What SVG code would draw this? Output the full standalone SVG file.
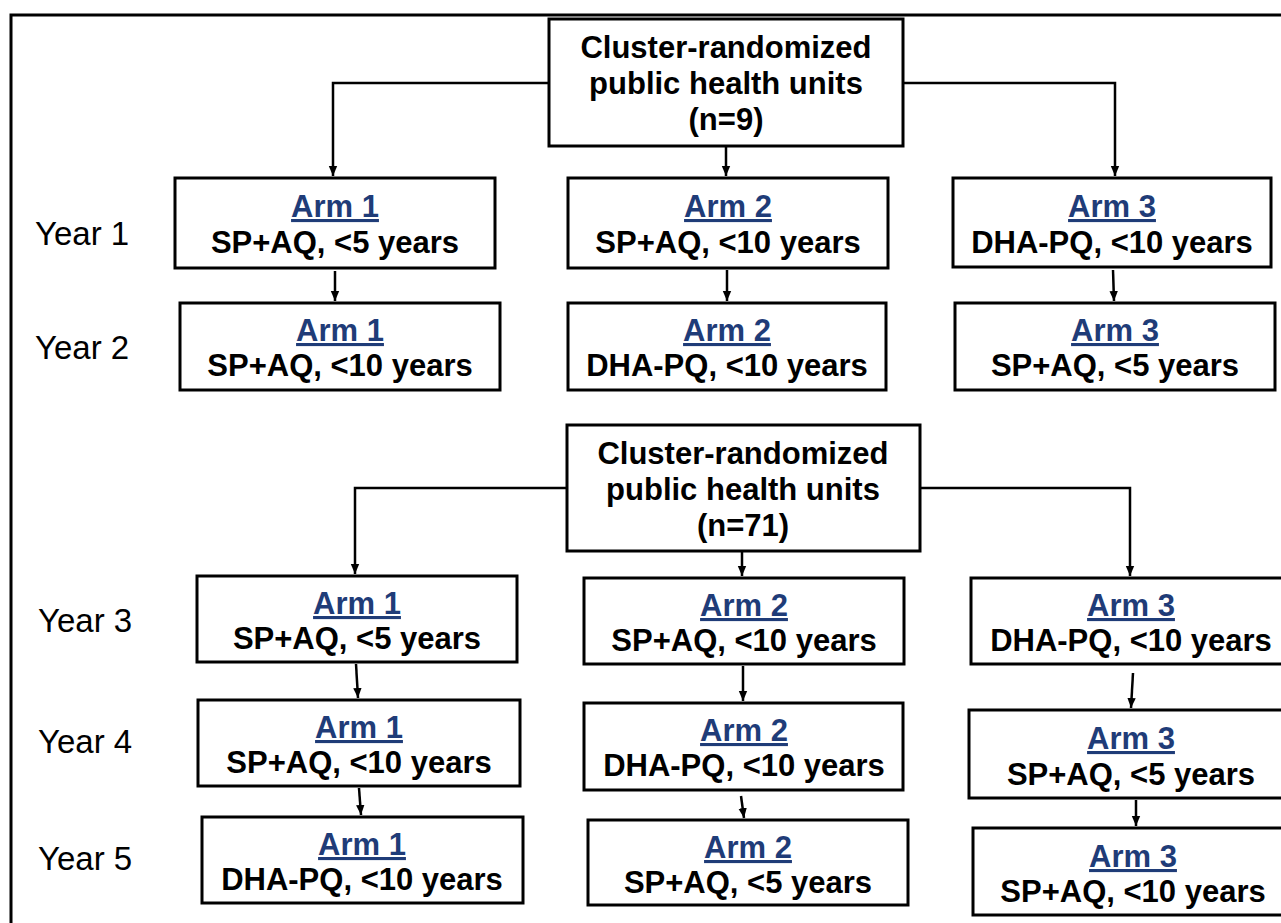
<svg xmlns="http://www.w3.org/2000/svg" width="1281" height="923" viewBox="0 0 1281 923">
<style>
.box{fill:#fff;stroke:#000;stroke-width:3}
.t{font-family:"Liberation Sans",Arial,sans-serif;font-weight:bold;font-size:31px;fill:#000;text-anchor:middle}
.arm{font-family:"Liberation Sans",Arial,sans-serif;font-weight:bold;font-size:31px;fill:#1f3c78;text-anchor:middle;text-decoration:underline}
.yr{font-family:"Liberation Sans",Arial,sans-serif;font-size:33px;fill:#000}
.c{fill:none;stroke:#000;stroke-width:2.5}
.frame{fill:none;stroke:#000;stroke-width:3}
</style>
<defs>
<marker id="ah" markerUnits="userSpaceOnUse" markerWidth="12" markerHeight="12" refX="10" refY="5" orient="auto">
<path d="M0,0.8 L10,5 L0,9.2 Z" fill="#000"/>
</marker>
</defs>
<rect width="1281" height="923" fill="#fff"/>
<path class="frame" d="M11,940 V15 H1300"/>

<g id="labels">
<text class="yr" x="35" y="245">Year 1</text>
<text class="yr" x="35" y="359">Year 2</text>
<text class="yr" x="38" y="632">Year 3</text>
<text class="yr" x="38" y="753">Year 4</text>
<text class="yr" x="38" y="870">Year 5</text>
</g>

<g id="connectors">
<path class="c" d="M549,83 H333 V176" marker-end="url(#ah)"/>
<path class="c" d="M903,83 H1115 V176" marker-end="url(#ah)"/>
<path class="c" d="M726,146 V176" marker-end="url(#ah)"/>
<path class="c" d="M335,271 V301" marker-end="url(#ah)"/>
<path class="c" d="M727,270 V301" marker-end="url(#ah)"/>
<path class="c" d="M1113,270 L1114,301" marker-end="url(#ah)"/>
<path class="c" d="M567,488 H355 V574" marker-end="url(#ah)"/>
<path class="c" d="M920,488 H1130 V576" marker-end="url(#ah)"/>
<path class="c" d="M742,551 V576" marker-end="url(#ah)"/>
<path class="c" d="M356,664 L358,698" marker-end="url(#ah)"/>
<path class="c" d="M743,666 V701" marker-end="url(#ah)"/>
<path class="c" d="M1133,673 L1131,708" marker-end="url(#ah)"/>
<path class="c" d="M359,788 L361,815" marker-end="url(#ah)"/>
<path class="c" d="M741,796 L744,818" marker-end="url(#ah)"/>
<path class="c" d="M1136,800 V826" marker-end="url(#ah)"/>
</g>

<g id="top1">
<rect class="box" x="549" y="19" width="354" height="127"/>
<text class="t" x="726" y="58">Cluster-randomized</text>
<text class="t" x="726" y="94">public health units</text>
<text class="t" x="726" y="130">(n=9)</text>
</g>

<g id="y1a1">
<rect class="box" x="175" y="178" width="320" height="90"/>
<text class="arm" x="335" y="217">Arm 1</text>
<text class="t" x="335" y="253">SP+AQ, &lt;5 years</text>
</g>
<g id="y1a2">
<rect class="box" x="568" y="178" width="320" height="90"/>
<text class="arm" x="728" y="217">Arm 2</text>
<text class="t" x="728" y="253">SP+AQ, &lt;10 years</text>
</g>
<g id="y1a3">
<rect class="box" x="953" y="178" width="318" height="89"/>
<text class="arm" x="1112" y="217">Arm 3</text>
<text class="t" x="1112" y="253">DHA-PQ, &lt;10 years</text>
</g>

<g id="y2a1">
<rect class="box" x="180" y="303" width="320" height="87"/>
<text class="arm" x="340" y="341">Arm 1</text>
<text class="t" x="340" y="376">SP+AQ, &lt;10 years</text>
</g>
<g id="y2a2">
<rect class="box" x="568" y="303" width="318" height="87"/>
<text class="arm" x="727" y="341">Arm 2</text>
<text class="t" x="727" y="376">DHA-PQ, &lt;10 years</text>
</g>
<g id="y2a3">
<rect class="box" x="955" y="303" width="320" height="87"/>
<text class="arm" x="1115" y="341">Arm 3</text>
<text class="t" x="1115" y="376">SP+AQ, &lt;5 years</text>
</g>

<g id="top2">
<rect class="box" x="567" y="425" width="353" height="126"/>
<text class="t" x="743" y="464">Cluster-randomized</text>
<text class="t" x="743" y="500">public health units</text>
<text class="t" x="743" y="536">(n=71)</text>
</g>

<g id="y3a1">
<rect class="box" x="197" y="576" width="320" height="86"/>
<text class="arm" x="357" y="614">Arm 1</text>
<text class="t" x="357" y="649">SP+AQ, &lt;5 years</text>
</g>
<g id="y3a2">
<rect class="box" x="584" y="578" width="320" height="86"/>
<text class="arm" x="744" y="616">Arm 2</text>
<text class="t" x="744" y="651">SP+AQ, &lt;10 years</text>
</g>
<g id="y3a3">
<rect class="box" x="971" y="578" width="322" height="86"/>
<text class="arm" x="1131" y="616">Arm 3</text>
<text class="t" x="1131" y="651">DHA-PQ, &lt;10 years</text>
</g>

<g id="y4a1">
<rect class="box" x="198" y="700" width="322" height="86"/>
<text class="arm" x="359" y="738">Arm 1</text>
<text class="t" x="359" y="773">SP+AQ, &lt;10 years</text>
</g>
<g id="y4a2">
<rect class="box" x="584" y="703" width="319" height="87"/>
<text class="arm" x="744" y="741">Arm 2</text>
<text class="t" x="744" y="776">DHA-PQ, &lt;10 years</text>
</g>
<g id="y4a3">
<rect class="box" x="969" y="710" width="324" height="88"/>
<text class="arm" x="1131" y="749">Arm 3</text>
<text class="t" x="1131" y="785">SP+AQ, &lt;5 years</text>
</g>

<g id="y5a1">
<rect class="box" x="202" y="817" width="321" height="86"/>
<text class="arm" x="362" y="855">Arm 1</text>
<text class="t" x="362" y="890">DHA-PQ, &lt;10 years</text>
</g>
<g id="y5a2">
<rect class="box" x="588" y="820" width="320" height="85"/>
<text class="arm" x="748" y="858">Arm 2</text>
<text class="t" x="748" y="893">SP+AQ, &lt;5 years</text>
</g>
<g id="y5a3">
<rect class="box" x="973" y="828" width="322" height="87"/>
<text class="arm" x="1133" y="867">Arm 3</text>
<text class="t" x="1133" y="902">SP+AQ, &lt;10 years</text>
</g>
</svg>
